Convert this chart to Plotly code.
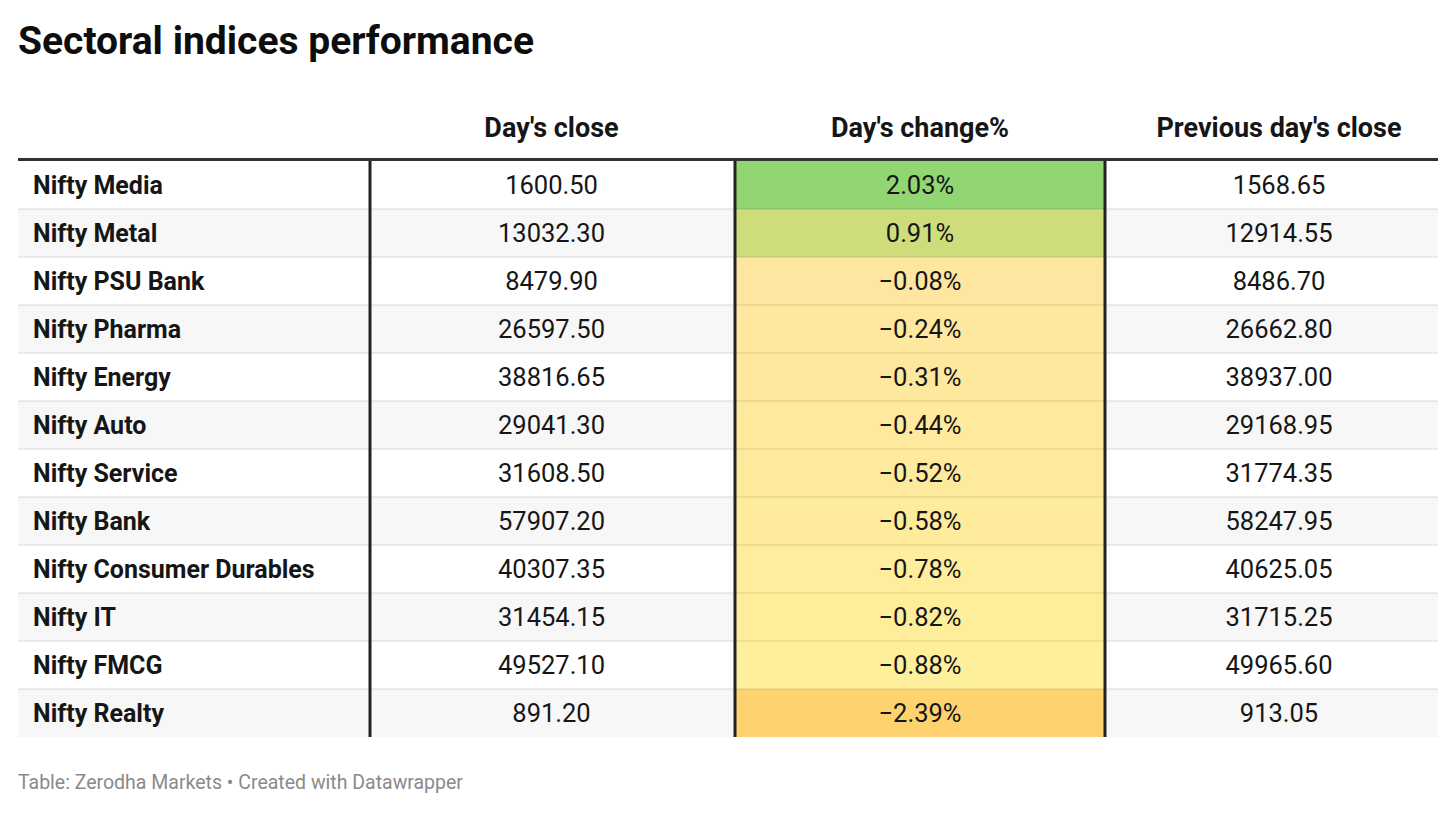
import plotly.graph_objects as go

# ---------------- data ----------------
indices = ["Nifty Media", "Nifty Metal", "Nifty PSU Bank", "Nifty Pharma", "Nifty Energy",
           "Nifty Auto", "Nifty Service", "Nifty Bank", "Nifty Consumer Durables",
           "Nifty IT", "Nifty FMCG", "Nifty Realty"]
days_close = [1600.50, 13032.30, 8479.90, 26597.50, 38816.65, 29041.30, 31608.50,
              57907.20, 40307.35, 31454.15, 49527.10, 891.20]
change_pct = [2.03, 0.91, -0.08, -0.24, -0.31, -0.44, -0.52, -0.58, -0.78, -0.82, -0.88, -2.39]
prev_close = [1568.65, 12914.55, 8486.70, 26662.80, 38937.00, 29168.95, 31774.35,
              58247.95, 40625.05, 31715.25, 49965.60, 913.05]
headers = ["", "Day's close", "Day's change%", "Previous day's close"]
# colours read for each change value (value -> colour)
change_colors = ["#92d573", "#cfdc7c", "#fee5a0", "#fee79e", "#fee89d", "#fee99c",
                 "#feea9c", "#feeb9c", "#feed9c", "#feee9c", "#feef9d", "#fed26f"]

# ---------------- layout constants ----------------
# the page body adds an 8px offset, so the figure is 8px smaller than the window
OFF = 8
W, H = 1456 - OFF, 813 - OFF
ML, MR, MT, MB = 18 - OFF, 18, 80 - OFF, 76
PW = W - ML - MR
PH = H - MT - MB
col_edges = [0, 352, 717, 1087, PW]
text_x = [15, 533.5, 902, 1261]
head_y = 50
row_top = 81
row_h = 48
text_dy = 3
FONT = "Roboto, 'Noto Sans', sans-serif"
TXT = "#161616"

n = len(indices)
row_edges = [row_top + row_h * i for i in range(n + 1)]
row_centers = [row_top + row_h * i + row_h / 2 + text_dy for i in range(n)]

def fmt_num(v):
    return f"{v:.2f}"

def fmt_pct(v):
    s = f"{abs(v):.2f}%"
    return ("\u2212" + s) if v < 0 else s

def paper_y(screen_y):
    return (H - MB - (screen_y - OFF)) / PH

fig = go.Figure()

# stripe background for the whole table
stripe_z = [[i % 2] for i in range(n)]
fig.add_trace(go.Heatmap(
    x=[col_edges[0], col_edges[-1]], y=row_edges, z=stripe_z,
    colorscale=[[0, "#ffffff"], [1, "#f7f7f7"]], zmin=0, zmax=1,
    showscale=False, hoverinfo="skip"))

# colour scale for the change column, built from the read colours
zmin, zmax = min(change_pct), max(change_pct)
pairs = sorted(zip(change_pct, change_colors))
cscale = [[(v - zmin) / (zmax - zmin), c] for v, c in pairs]
fig.add_trace(go.Heatmap(
    x=[col_edges[2], col_edges[3]], y=row_edges, z=[[v] for v in change_pct],
    colorscale=cscale, zmin=zmin, zmax=zmax, showscale=False, hoverinfo="skip"))

# header texts
for j in range(1, 4):
    fig.add_trace(go.Scatter(
        x=[text_x[j]], y=[head_y], mode="text", text=[headers[j]],
        textfont=dict(family=FONT, size=27, color=TXT, weight="bold"),
        textposition="middle center", hoverinfo="skip"))

# body texts
fig.add_trace(go.Scatter(
    x=[text_x[0]] * n, y=row_centers, mode="text", text=indices,
    textfont=dict(family=FONT, size=25, color=TXT, weight="bold"),
    textposition="middle right", hoverinfo="skip"))
fig.add_trace(go.Scatter(
    x=[text_x[1]] * n, y=row_centers, mode="text", text=[fmt_num(v) for v in days_close],
    textfont=dict(family=FONT, size=25.5, color=TXT), textposition="middle center", hoverinfo="skip"))
fig.add_trace(go.Scatter(
    x=[text_x[2]] * n, y=row_centers, mode="text", text=[fmt_pct(v) for v in change_pct],
    textfont=dict(family=FONT, size=25.5, color=TXT), textposition="middle center", hoverinfo="skip"))
fig.add_trace(go.Scatter(
    x=[text_x[3]] * n, y=row_centers, mode="text", text=[fmt_num(v) for v in prev_close],
    textfont=dict(family=FONT, size=25.5, color=TXT), textposition="middle center", hoverinfo="skip"))

shapes = []
# row separators
for e in row_edges[1:-1]:
    shapes.append(dict(type="line", xref="x", yref="y", x0=0, x1=PW, y0=e, y1=e,
                       line=dict(color="rgba(0,0,0,0.09)", width=1.5)))
# vertical column dividers
for e in col_edges[1:-1]:
    shapes.append(dict(type="line", xref="x", yref="y", x0=e, x1=e,
                       y0=row_edges[0], y1=row_edges[-1],
                       line=dict(color="#222222", width=3)))
# header rule
shapes.append(dict(type="line", xref="x", yref="y", x0=0, x1=PW, y0=row_top - 1.5, y1=row_top - 1.5,
                   line=dict(color="#333333", width=3)))

fig.update_layout(
    width=W, height=H,
    margin=dict(l=ML, r=MR, t=MT, b=MB, pad=0),
    paper_bgcolor="white", plot_bgcolor="white",
    showlegend=False,
    xaxis=dict(range=[0, PW], visible=False, fixedrange=True),
    yaxis=dict(range=[PH, 0], visible=False, fixedrange=True),
    shapes=shapes,
    annotations=[
        dict(text="<b>Sectoral indices performance</b>", xref="paper", yref="paper",
             x=-2 / PW, y=paper_y(41), xanchor="left", yanchor="middle",
             showarrow=False, font=dict(family=FONT, size=39, color="#0d0d0d")),
        dict(text="Table: Zerodha Markets \u2022 Created with Datawrapper", xref="paper", yref="paper",
             x=-2 / PW, y=paper_y(783), xanchor="left", yanchor="middle",
             showarrow=False, font=dict(family=FONT, size=19.5, color="#8a8a8a")),
    ],
)

fig.write_html("out.html")
